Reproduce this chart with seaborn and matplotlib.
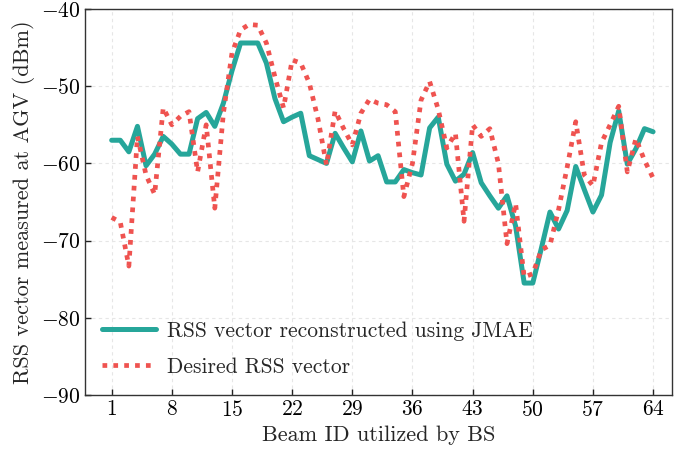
import matplotlib
matplotlib.use("Agg")
import matplotlib.pyplot as plt
import numpy as np
import pandas as pd
import seaborn as sns

beam_ids = list(range(1, 65))

rss_jmae = [
    -57.0, -57.0, -58.5, -55.2, -60.3, -58.8, -56.5, -57.5, -58.8, -58.8,
    -54.2, -53.4, -55.2, -52.2, -48.0, -44.4, -44.4, -44.4, -47.0, -51.6,
    -54.6, -54.0, -53.5, -59.0, -59.5, -60.0, -56.1, -58.0, -59.8, -55.8,
    -59.7, -59.0, -62.4, -62.4, -60.8, -61.2, -61.5, -55.4, -54.0, -60.1,
    -62.3, -61.4, -58.6, -62.5, -64.2, -65.8, -64.2, -68.1, -75.5, -75.5,
    -71.0, -66.3, -68.5, -66.1, -60.4, -63.4, -66.3, -64.1, -57.3, -53.2,
    -60.1, -58.1, -55.5, -55.9,
]

rss_desired = [
    -67.0, -67.6, -73.3, -56.5, -61.5, -64.0, -52.8, -55.0, -53.9, -53.3,
    -61.1, -55.0, -65.8, -53.5, -45.7, -42.7, -42.0, -42.1, -44.4, -48.8,
    -52.8, -46.6, -47.0, -49.6, -54.2, -60.2, -53.2, -55.5, -57.6, -53.5,
    -51.7, -52.2, -52.4, -53.3, -64.3, -60.0, -51.8, -49.4, -53.0, -58.0,
    -56.1, -67.5, -55.0, -56.5, -55.5, -60.0, -70.4, -65.2, -74.7, -74.3,
    -71.2, -70.6, -66.0, -60.5, -54.6, -61.5, -62.9, -57.3, -55.0, -52.6,
    -61.1, -56.8, -59.6, -61.9,
]

label_jmae = "RSS vector reconstructed using JMAE"
label_desired = "Desired RSS vector"
xtick_values = [1, 8, 15, 22, 29, 36, 43, 50, 57, 64]
ytick_values = [-90, -80, -70, -60, -50, -40]

sns.set_theme(style="ticks")
plt.rcParams["font.family"] = ["cmr10", "DejaVu Serif"]
plt.rcParams["mathtext.fontset"] = "cm"
plt.rcParams["axes.formatter.use_mathtext"] = True

df = pd.DataFrame({
    "beam": beam_ids * 2,
    "rss": rss_jmae + rss_desired,
    "series": [label_jmae] * len(beam_ids) + [label_desired] * len(beam_ids),
})

teal = "#26a69a"
red = "#ef5350"

fig = plt.figure(figsize=(6.77, 4.58), dpi=100)
ax = fig.add_axes([0.1256, 0.1376, 0.867, 0.8427])

sns.lineplot(data=df[df.series == label_jmae], x="beam", y="rss",
             color=teal, linewidth=3.6, ax=ax, label=label_jmae, zorder=3)
sns.lineplot(data=df[df.series == label_desired], x="beam", y="rss",
             color=red, linewidth=3.4, ax=ax, label=label_desired, zorder=4)
ax.lines[1].set_dashes([1.0, 1.3])
ax.lines[1].set_dash_capstyle("butt")

ax.set_xlim(-2.1, 66.2)
ax.set_ylim(-90, -40)
ax.set_xticks(xtick_values)
ax.set_yticks(ytick_values)
ax.grid(True, color="#e6e6e6", linestyle=(0, (3, 3)), linewidth=0.8)
ax.tick_params(direction="in", length=4, width=1, labelsize=15.5, colors="#222222",
               labelcolor="black")
ax.set_xlabel("Beam ID utilized by BS", fontsize=16)
ax.set_ylabel("RSS vector measured at AGV (dBm)", fontsize=16)
for s in ax.spines.values():
    s.set_color("#333333")
    s.set_linewidth(1.0)

leg = ax.legend(loc="lower left", bbox_to_anchor=(0.0, 0.003), frameon=False,
                fontsize=15.5, handlelength=2.5, handletextpad=0.5,
                borderaxespad=0.4, labelspacing=0.75)
leg.get_lines()[1].set_dashes([1.0, 1.3])

fig.savefig("out.png", dpi=100)
